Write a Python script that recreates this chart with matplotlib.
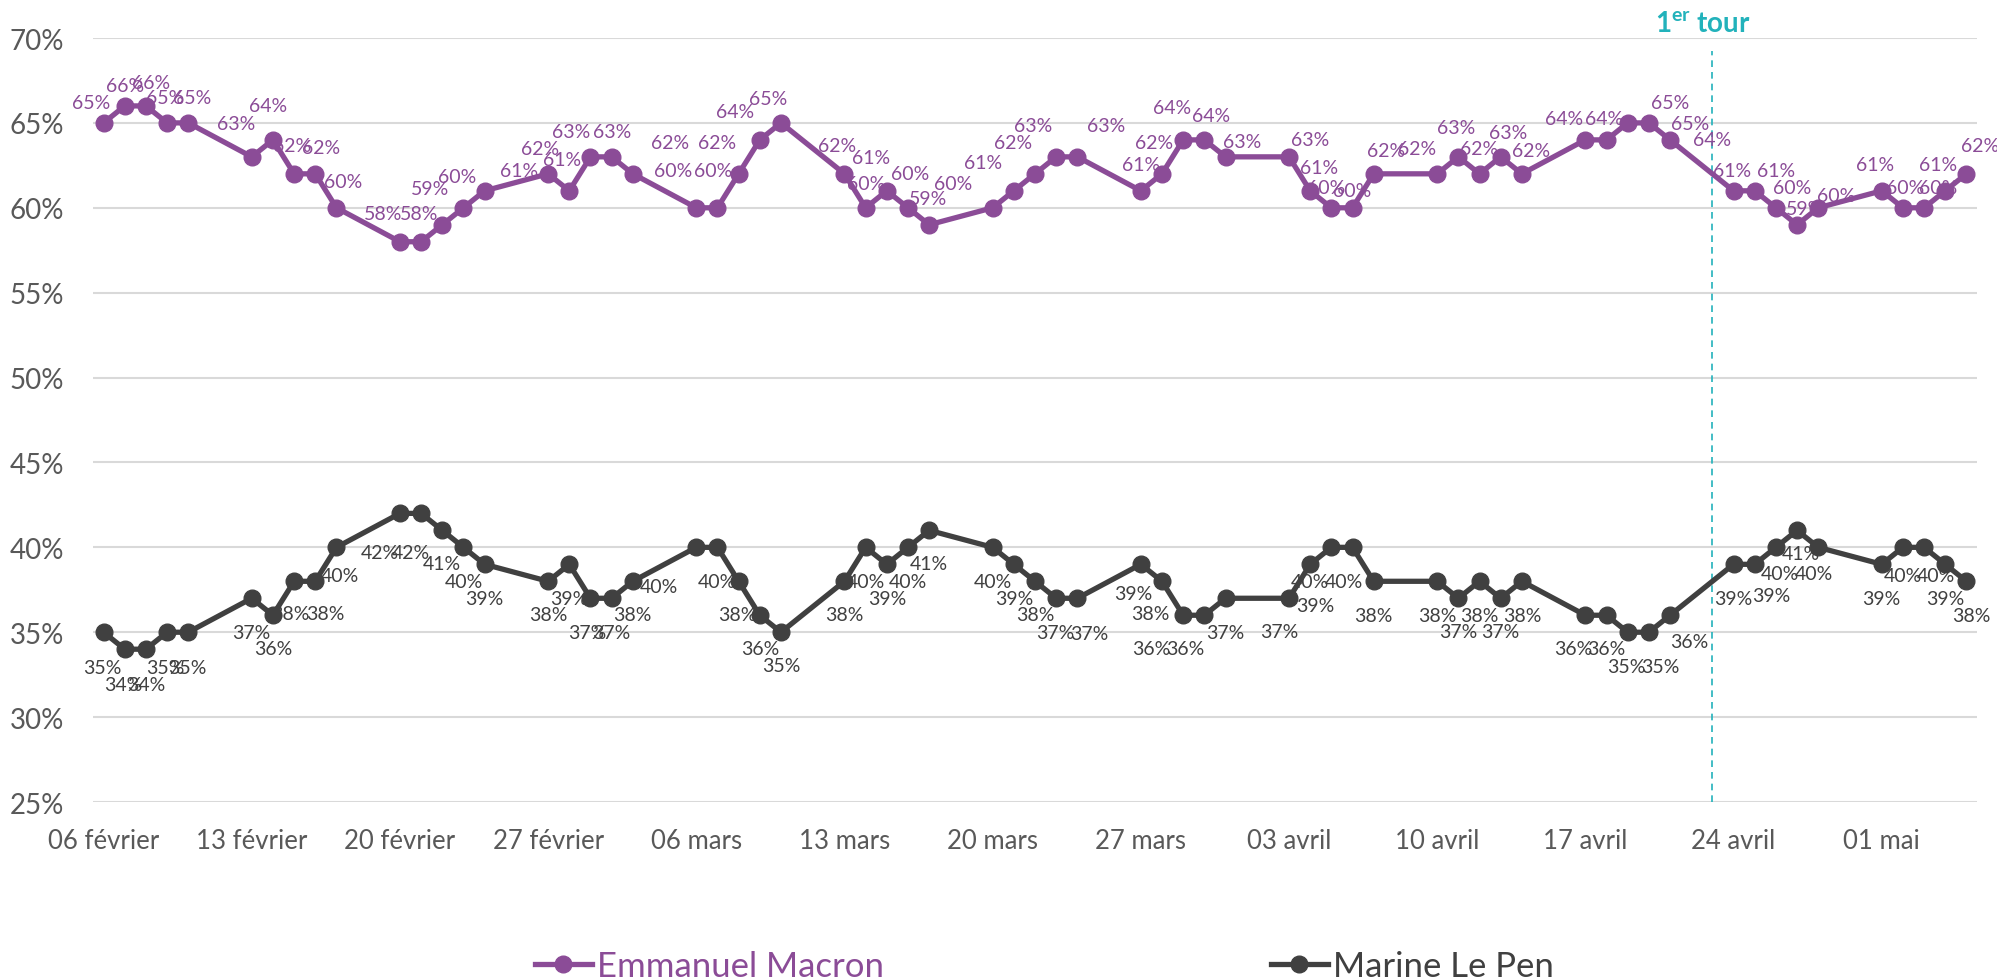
import matplotlib
matplotlib.use("Agg")
import matplotlib.pyplot as plt
import matplotlib.dates as mdates
import pandas as pd

# ---------------- data ----------------
dates = [
    "2017-02-06", "2017-02-07", "2017-02-08", "2017-02-09", "2017-02-10",
    "2017-02-13", "2017-02-14", "2017-02-15", "2017-02-16", "2017-02-17",
    "2017-02-20", "2017-02-21", "2017-02-22", "2017-02-23", "2017-02-24",
    "2017-02-27", "2017-02-28", "2017-03-01", "2017-03-02", "2017-03-03",
    "2017-03-06", "2017-03-07", "2017-03-08", "2017-03-09", "2017-03-10",
    "2017-03-13", "2017-03-14", "2017-03-15", "2017-03-16", "2017-03-17",
    "2017-03-20", "2017-03-21", "2017-03-22", "2017-03-23", "2017-03-24",
    "2017-03-27", "2017-03-28", "2017-03-29", "2017-03-30", "2017-03-31",
    "2017-04-03", "2017-04-04", "2017-04-05", "2017-04-06", "2017-04-07",
    "2017-04-10", "2017-04-11", "2017-04-12", "2017-04-13", "2017-04-14",
    "2017-04-17", "2017-04-18", "2017-04-19", "2017-04-20", "2017-04-21",
    "2017-04-24", "2017-04-25", "2017-04-26", "2017-04-27", "2017-04-28",
    "2017-05-01", "2017-05-02", "2017-05-03", "2017-05-04", "2017-05-05",
]

macron = [
    65, 66, 66, 65, 65,
    63, 64, 62, 62, 60,
    58, 58, 59, 60, 61,
    62, 61, 63, 63, 62,
    60, 60, 62, 64, 65,
    62, 60, 61, 60, 59,
    60, 61, 62, 63, 63,
    61, 62, 64, 64, 63,
    63, 61, 60, 60, 62,
    62, 63, 62, 63, 62,
    64, 64, 65, 65, 64,
    61, 61, 60, 59, 60,
    61, 60, 60, 61, 62,
]

lepen = [
    35, 34, 34, 35, 35,
    37, 36, 38, 38, 40,
    42, 42, 41, 40, 39,
    38, 39, 37, 37, 38,
    40, 40, 38, 36, 35,
    38, 40, 39, 40, 41,
    40, 39, 38, 37, 37,
    39, 38, 36, 36, 37,
    37, 39, 40, 40, 38,
    38, 37, 38, 37, 38,
    36, 36, 35, 35, 36,
    39, 39, 40, 41, 40,
    39, 40, 40, 39, 38,
]

series_names = ["Emmanuel Macron", "Marine Le Pen"]

tick_dates = ["2017-02-06", "2017-02-13", "2017-02-20", "2017-02-27",
              "2017-03-06", "2017-03-13", "2017-03-20", "2017-03-27",
              "2017-04-03", "2017-04-10", "2017-04-17", "2017-04-24",
              "2017-05-01"]
tick_labels = ["06 février", "13 février", "20 février", "27 février",
               "06 mars", "13 mars", "20 mars", "27 mars",
               "03 avril", "10 avril", "17 avril", "24 avril", "01 mai"]
y_ticks = [25, 30, 35, 40, 45, 50, 55, 60, 65, 70]

first_round_date = "2017-04-23"
first_round_label = "1$^{\\mathbf{er}}$ tour"

# ---------------- style ----------------
# data-label placement (pixels: dx right, dy away from the line)
macron_label_offsets = [
    (-12, 20), (0, 20), (5, 23), (-2, 25), (4, 25),
    (-16, 33), (-5, 34), (-2, 28), (6, 26), (7, 26),
    (-17, 28), (-2, 28), (-12, 36), (-6, 31), (34, 20),
    (-8, 25), (-7, 31), (-19, 25), (0, 25), (37, 31),
    (-23, 37), (-4, 37), (-22, 31), (-25, 28), (-13, 24),
    (-7, 28), (0, 24), (-16, 33), (2, 34), (-1, 26),
    (-40, 24), (-31, 28), (-22, 31), (-23, 31), (29, 31),
    (0, 26), (-8, 31), (-11, 32), (7, 24), (17, 15),
    (21, 17), (9, 23), (-5, 20), (0, 17), (12, 23),
    (-20, 25), (-2, 29), (0, 25), (7, 24), (9, 23),
    (-21, 21), (-2, 21), (42, 20), (41, -1), (42, 0),
    (-1, 20), (21, 20), (16, 20), (8, 16), (18, 12),
    (-7, 26), (2, 20), (14, 20), (-7, 26), (14, 28),
]
lepen_label_offsets = [
    (-1, 35), (-2, 35), (0, 35), (-2, 35), (-1, 35),
    (-1, 34), (0, 33), (-4, 32), (10, 32), (3, 28),
    (-20, 39), (-10, 39), (0, 33), (0, 34), (0, 34),
    (0, 33), (0, 34), (-3, 34), (0, 34), (0, 33),
    (-37, 39), (-1, 34), (-1, 33), (0, 33), (0, 33),
    (0, 33), (0, 34), (0, 34), (0, 34), (0, 33),
    (0, 34), (0, 34), (0, 33), (-1, 34), (12, 35),
    (-8, 29), (-12, 32), (-32, 33), (-19, 33), (0, 34),
    (-10, 33), (5, 41), (-21, 34), (-9, 34), (0, 34),
    (0, 34), (0, 33), (0, 34), (0, 33), (0, 34),
    (-12, 33), (0, 33), (-1, 34), (11, 34), (19, 26),
    (0, 34), (17, 31), (4, 26), (4, 23), (-4, 26),
    (0, 34), (0, 28), (12, 28), (0, 34), (5, 34),
]

W, H = 1997, 979
FONT = ["Lato", "DejaVu Sans"]
plt.rcParams["font.family"] = FONT
plt.rcParams["mathtext.fontset"] = "custom"
plt.rcParams["mathtext.rm"] = "Lato"
plt.rcParams["mathtext.bf"] = "Lato:bold"

C_MACRON = "#8B4C97"
C_LEPEN = "#404040"
C_AXIS = "#595959"
C_GRID = "#D9D9D9"
C_TEAL = "#22B2BB"

fig = plt.figure(figsize=(W / 100, H / 100), dpi=100)
left_px, right_px, top_px, bottom_px = 93, 1977, 39, 803
ax = fig.add_axes([left_px / W, (H - bottom_px) / H,
                   (right_px - left_px) / W, (bottom_px - top_px) / H])

x = mdates.date2num(pd.to_datetime(dates))
xt = mdates.date2num(pd.to_datetime(tick_dates))

ax.set_xlim(x[0] - 0.5, x[-1] + 0.5)
ax.set_ylim(y_ticks[0], y_ticks[-1])

ax.set_yticks(y_ticks)
ax.set_yticklabels([f"{v}%" for v in y_ticks])
ax.set_xticks(xt)
ax.set_xticklabels(tick_labels)
ax.tick_params(axis="y", length=0, pad=21, labelsize=20, labelcolor=C_AXIS)
ax.tick_params(axis="x", length=0, pad=19, labelsize=18.5, labelcolor=C_AXIS)
for s in ax.spines.values():
    s.set_visible(False)
ax.grid(axis="y", color=C_GRID, linewidth=1.5)
ax.set_axisbelow(True)

lines = []
for vals, col, name in [(macron, C_MACRON, series_names[0]),
                        (lepen, C_LEPEN, series_names[1])]:
    ln, = ax.plot(x, vals, color=col, linewidth=3.8, marker="o",
                  markersize=12, markerfacecolor=col, markeredgecolor=col,
                  label=name, zorder=3, solid_joinstyle="round")
    lines.append(ln)

# data labels
for xi, v, (dx, dy) in zip(x, macron, macron_label_offsets):
    ax.annotate(f"{v}%", (xi, v), xytext=(dx, dy), textcoords="offset pixels",
                ha="center", va="center", fontsize=14, color=C_MACRON,
                zorder=4)
for xi, v, (dx, dy) in zip(x, lepen, lepen_label_offsets):
    ax.annotate(f"{v}%", (xi, v), xytext=(dx, -dy), textcoords="offset pixels",
                ha="center", va="center", fontsize=14, color=C_LEPEN,
                zorder=4)

# first round marker
xr = mdates.date2num(pd.Timestamp(first_round_date))
ax.axvline(xr, ymin=0, ymax=(bottom_px - 52) / (bottom_px - top_px),
           color=C_TEAL, linewidth=1.2, linestyle=(0, (4, 3)), zorder=2)
fig.text(1703 / W, 1 - 33 / H, first_round_label, ha="center", va="baseline",
         fontsize=20, fontweight="bold", color=C_TEAL)

# legend (one box per entry, placed like the reference)
leg_y = 1 - 967 / H
for ln, xpx in zip(lines, [535, 1271]):
    lg = fig.legend(handles=[ln], loc="center left",
                    bbox_to_anchor=(xpx / W, leg_y), frameon=False,
                    fontsize=25, handlelength=1.64, handletextpad=0.15,
                    borderpad=0, borderaxespad=0, numpoints=1)
    for t in lg.get_texts():
        t.set_color(ln.get_color())

fig.savefig("out.png", dpi=100)
